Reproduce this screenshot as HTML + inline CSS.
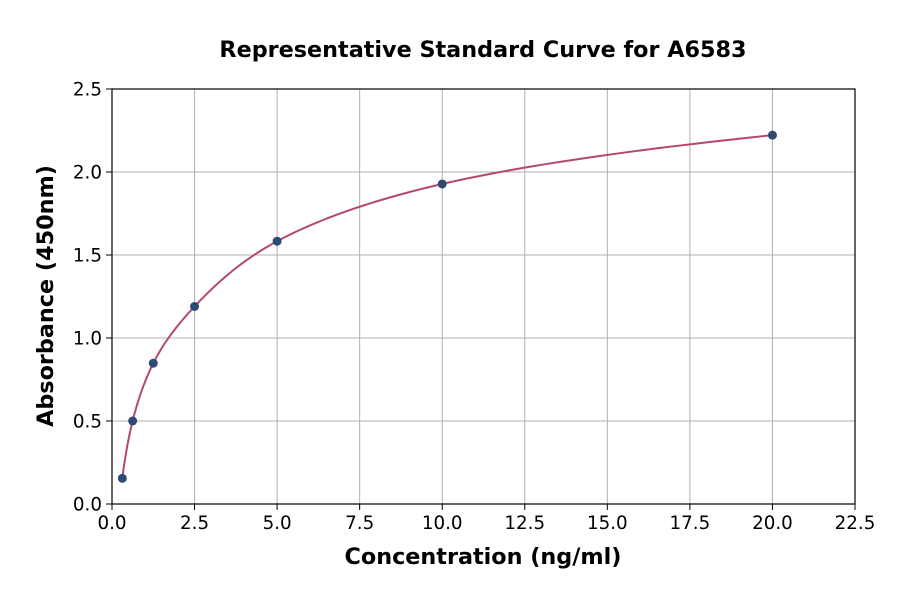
<!DOCTYPE html>
<html><head><meta charset="utf-8"><style>body{margin:0;background:#fff}svg{display:block}text{font-family:"DejaVu Sans","Liberation Sans",sans-serif}</style></head>
<body>
<svg id="s" width="900" height="594" xmlns="http://www.w3.org/2000/svg">
<rect width="900" height="594" fill="#fff"/>
<text x="483" y="57" text-anchor="middle" font-size="22.3" font-weight="bold">Representative Standard Curve for A6583</text>
<g id="grid" stroke="#b0b0b0" stroke-width="1"></g>
<g id="tk" font-size="18.3" fill="#000"></g>
<path id="curve" fill="none" stroke="#b5496b" stroke-width="2"/>
<g id="pts" fill="#2e4a73"></g>
<rect x="112" y="89" width="743" height="415" fill="none" stroke="#000" stroke-width="1.2"/>
<text x="483" y="564" text-anchor="middle" font-size="22.3" font-weight="bold">Concentration (ng/ml)</text>
<text transform="translate(53,296) rotate(-90)" text-anchor="middle" font-size="22.3" font-weight="bold">Absorbance (450nm)</text>
</svg>
<script>
var X0=112,XS=743/22.5,Y0=504,YS=415/2.5,NS="http://www.w3.org/2000/svg";
function px(x){return X0+x*XS}function py(y){return Y0-y*YS}
function el(t,a,p,txt){var e=document.createElementNS(NS,t);for(var k in a)e.setAttribute(k,a[k]);if(txt!=null)e.textContent=txt;document.getElementById(p).appendChild(e);}
for(var i=0;i<=9;i++){var v=i*2.5,x=px(v);if(i>0&&i<9)el('line',{x1:x,x2:x,y1:89,y2:504},'grid');el('line',{x1:x,x2:x,y1:504,y2:510,stroke:'#000'},'grid');el('text',{x:x,y:529,'text-anchor':'middle'},'tk',v.toFixed(1));}
for(var j=0;j<=5;j++){var v=j*0.5,y=py(v);if(j>0&&j<5)el('line',{x1:112,x2:855,y1:y,y2:y},'grid');el('line',{x1:106,x2:112,y1:y,y2:y,stroke:'#000'},'grid');el('text',{x:102,y:y+6.5,'text-anchor':'end'},'tk',v.toFixed(1));}
var P=[[0.3125,0.155],[0.625,0.5],[1.25,0.848],[2.5,1.19],[5,1.583],[10,1.928],[20,2.222]];
var L=P.map(function(p){return [Math.log(p[0]),p[1]]});
var d='';
for(var k=0;k<L.length-1;k++){var p0=L[Math.max(k-1,0)],p1=L[k],p2=L[k+1],p3=L[Math.min(k+2,L.length-1)];
for(var s=0;s<=20;s++){var t=s/20,t2=t*t,t3=t2*t;
var f=function(a,b,c,e){return 0.5*((2*b)+(-a+c)*t+(2*a-5*b+4*c-e)*t2+(-a+3*b-3*c+e)*t3)};
var lx=f(p0[0],p1[0],p2[0],p3[0]),y=f(p0[1],p1[1],p2[1],p3[1]);
d+=(d?'L':'M')+px(Math.exp(lx)).toFixed(2)+','+py(y).toFixed(2);}}
document.getElementById('curve').setAttribute('d',d);
P.forEach(function(p){el('circle',{cx:px(p[0]),cy:py(p[1]),r:4.5},'pts')});
</script>
</body></html>
